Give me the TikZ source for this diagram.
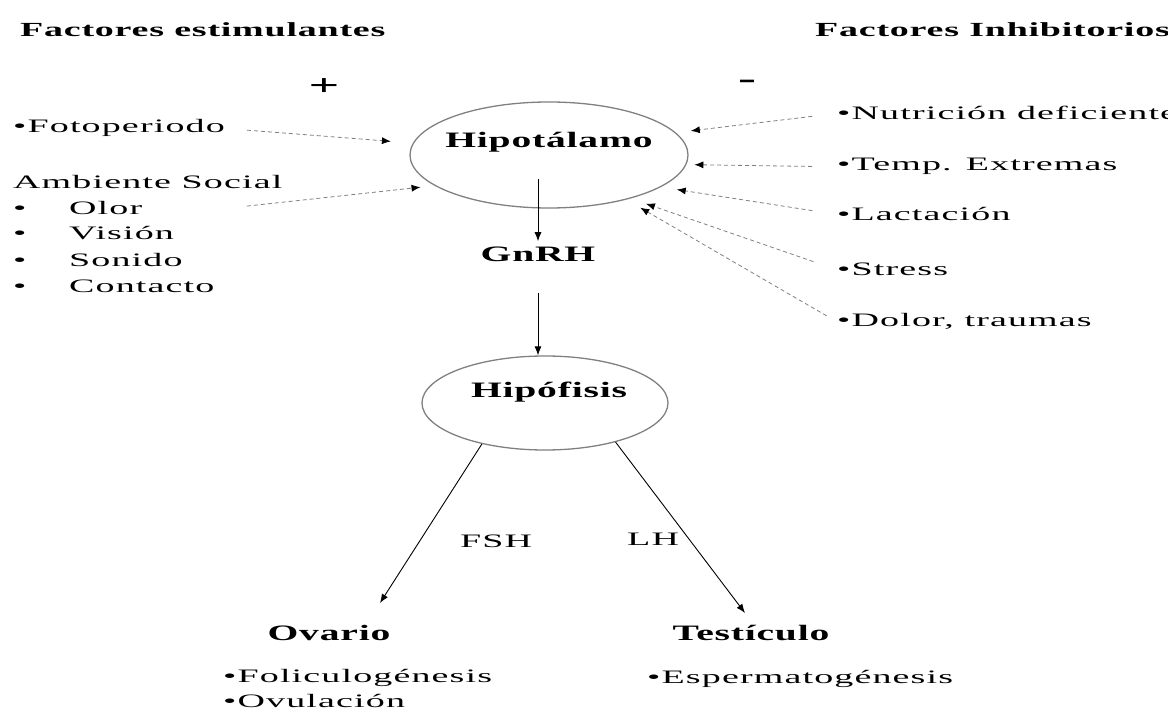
\documentclass[tikz,border=0pt]{standalone}
\usepackage{graphicx}
\usepackage{fontspec}
\setmainfont{Liberation Serif}[LetterSpace=3]
\newfontfamily\negrita{Liberation Serif}[LetterSpace=2]
\usetikzlibrary{shapes.geometric,arrows.meta}
\newcommand{\ancho}[1]{\scalebox{2.0}[1]{#1}}
\newcommand{\anchob}[1]{\scalebox{1.8}[1]{#1}}
\newcommand{\anchoc}[1]{\scalebox{1.9}[1]{#1}}

\begin{document}
\begin{tikzpicture}[x=1pt,y=-1pt]
\tikzset{
  organo/.style={ellipse,draw=gray,line width=1.3pt,inner sep=0pt},
  negro/.style={font=\negrita\bfseries\fontsize{22}{26}\selectfont,inner sep=0pt,anchor=base},
  cabeza/.style={font=\negrita\bfseries\fontsize{20}{24}\selectfont,inner sep=0pt,anchor=base west},
  texto/.style={font=\fontsize{19}{23}\selectfont,inner sep=0pt,anchor=base west},
  flecha/.style={-{Latex[length=9pt,width=7pt]},line width=0.9pt},
  factor/.style={-{Latex[length=9pt,width=7pt,color=black]},draw=gray,dash pattern=on 4pt off 3pt,
    line width=0.8pt,shorten >=14pt,shorten <=22pt},
}
\useasboundingbox (0,0) rectangle (1168,711);

\node[cabeza] (estim) at (20,37) {\anchoc{Factores estimulantes}};
\node[cabeza] (inhib) at (815,37) {\anchoc{Factores Inhibitorios}};
\node[font=\negrita\bfseries\fontsize{30}{30}\selectfont,inner sep=0pt] (mas) at (324,87) {\anchob{+}};
\node[font=\negrita\bfseries\fontsize{30}{30}\selectfont,inner sep=0pt] (menos) at (747,84) {\anchob{-}};

% estimulantes
\node[texto] (foto) at (13,133) {\ancho{•Fotoperiodo}};
\node[texto] (social) at (13,189) {\ancho{Ambiente Social}};
\node[texto] (olor) at (13,215) {\ancho{\makebox[28pt][l]{•}Olor}};
\node[texto] (vision) at (13,240) {\ancho{\makebox[28pt][l]{•}Visión}};
\node[texto] (sonido) at (13,267) {\ancho{\makebox[28pt][l]{•}Sonido}};
\node[texto] (contacto) at (13,293) {\ancho{\makebox[28pt][l]{•}Contacto}};

% inhibitorios
\node[texto] (nutri) at (837,120) {\ancho{•Nutrición deficiente}};
\node[texto] (temp) at (837,171) {\ancho{•Temp. Extremas}};
\node[texto] (lact) at (837,221) {\ancho{•Lactación}};
\node[texto] (stress) at (837,276) {\ancho{•Stress}};
\node[texto] (dolor) at (837,327) {\ancho{•Dolor, traumas}};

\node[organo,minimum width=278pt,minimum height=106pt] (hipo) at (549,155) {};
\node[negro] (hipotxt) at (549,148) {\anchob{Hipotálamo}};
\node[negro] (gnrh) at (538,262) {\anchob{GnRH}};
\node[organo,minimum width=246pt,minimum height=94pt] (hipof) at (545,403) {};
\node[negro] (hipoftxt) at (549,398) {\anchob{Hipófisis}};

\node[texto] (fsh) at (460,547) {\ancho{FSH}};
\node[texto] (lh) at (627,545) {\ancho{LH}};
\node[negro] (ovario) at (329,640) {\anchob{Ovario}};
\node[negro] (testi) at (751,640) {\anchob{Testículo}};
\node[texto] (folic) at (223,682) {\ancho{•Foliculogénesis}};
\node[texto] (ovul) at (223,707) {\ancho{•Ovulación}};
\node[texto] (esperma) at (647,683) {\ancho{•Espermatogénesis}};

\coordinate (fshtip) at (380,603);
\coordinate (lhtip) at (745,613);

\draw[flecha] (gnrh.north |- hipo.south) ++(0,-30) -- ([yshift=6pt]gnrh.north);
\draw[flecha] ([yshift=-31pt]gnrh.south) -- (gnrh.south |- hipof.north);
\draw[flecha] (hipof.213) -- (fshtip);
\draw[flecha] (hipof.331) -- (lhtip);

\draw[factor,shorten >=22pt] (foto.east) -- (hipo.175);
\draw[factor] (olor.east -| foto.east) -- (hipo.195);
\draw[factor,shorten <=25pt,shorten >=15pt] (nutri.west) -- (hipo.10);
\draw[factor,shorten <=25pt,shorten >=8pt] (temp.west) -- (hipo.-4);
\draw[factor,shorten <=25pt,shorten >=16pt] (lact.west) -- (hipo.-16);
\draw[factor,shorten <=25pt,shorten >=16pt] (stress.west) -- (hipo.-28);
\draw[factor,shorten <=12pt,shorten >=16pt] (dolor.west) -- (hipo.-30); % dos puntas juntas
\end{tikzpicture}
\end{document}
